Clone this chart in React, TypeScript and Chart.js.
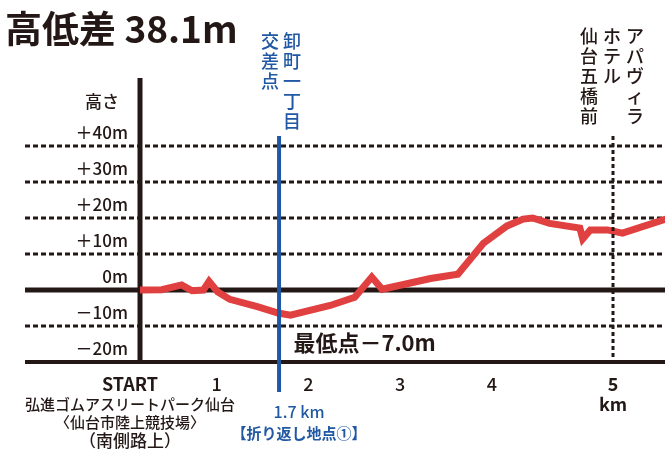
import React, { useEffect, useRef } from 'react';
import Chart from 'chart.js/auto';

// course profile (km from start, metres vs. start)
const distanceKm = [0, 0.23, 0.44, 0.55, 0.67, 0.73, 0.82, 0.95, 1.24, 1.46, 1.59, 2.01, 2.27, 2.45, 2.56, 3.07, 3.36, 3.63, 3.88, 4.05, 4.15, 4.33, 4.65, 4.68, 4.76, 4.94, 5.1, 5.56];
const elevationM = [0, 0.1, 1.4, -0.2, 0, 2.4, -0.5, -2.6, -4.6, -6.4, -7.0, -4.3, -2.0, 3.6, 0.2, 3.2, 4.4, 13.0, 17.8, 19.7, 20.0, 18.5, 17.2, 14.2, 16.7, 16.7, 15.8, 19.7];

const yTicks = [40, 30, 20, 10, 0, -10, -20];
const yTickLabels = ['＋40m', '＋30m', '＋20m', '＋10m', '0m', '－10m', '－20m'];
const solidYLines = [0, -20];

const xTickValues = [0, 0.81, 1.78, 2.75, 3.72, 5];
const xTickLabels = ['START', '1', '2', '3', '4', '5'];

const turnKm = 1.47;
const fiveKm = 5;
const lowestKm = 1.59;

const title = '高低差 38.1m';
const yTitle = '高さ';
const startCaption = ['弘進ゴムアスリートパーク仙台', '〈仙台市陸上競技場〉', '（南側路上）'];
const turnCaption = ['1.7 km', '【折り返し地点①】'];
const turnPlace = ['交差点', '卸町一丁目'];
const fivePlace = ['仙台五橋前', 'ホテル', 'アパヴィラ'];
const lowestLabel = '最低点－7.0m';

const BLACK = '#231815';
const RED = '#e0403f';
const BLUE = '#2158a3';
const FONT = "'Noto Sans CJK JP', 'Noto Sans', sans-serif";

const drawColumn = (ctx: CanvasRenderingContext2D, text: string, x: number, top: number, step: number) => {
  Array.from(text).forEach((ch, i) => {
    ctx.fillText(ch, x, top + i * step);
  });
};

const profilePlugin = {
  id: 'profile',
  beforeDatasetsDraw(chart: any) {
    const { ctx, chartArea, scales } = chart;
    const { x, y } = scales;
    ctx.save();
    ctx.strokeStyle = BLACK;
    // horizontal grid
    yTicks.forEach((v) => {
      const py = y.getPixelForValue(v);
      const solid = solidYLines.includes(v);
      ctx.lineWidth = solid ? (v === 0 ? 5 : 4) : 3;
      ctx.setLineDash(solid ? [] : [5, 3]);
      ctx.beginPath();
      ctx.moveTo(chartArea.left, py);
      ctx.lineTo(chartArea.right, py);
      ctx.stroke();
    });
    // vertical axis at the start
    const ax = x.getPixelForValue(0);
    ctx.setLineDash([]);
    ctx.lineWidth = 5;
    ctx.beginPath();
    ctx.moveTo(ax, 78);
    ctx.lineTo(ax, y.getPixelForValue(-20) + 2);
    ctx.stroke();
    ctx.restore();
  },
  afterDatasetsDraw(chart: any) {
    const { ctx, scales } = chart;
    const { x, y } = scales;
    ctx.save();
    // turnaround marker
    const tx = x.getPixelForValue(turnKm);
    ctx.strokeStyle = BLUE;
    ctx.lineWidth = 4;
    ctx.beginPath();
    ctx.moveTo(tx, 136);
    ctx.lineTo(tx, y.getPixelForValue(-20) + 30);
    ctx.stroke();
    // 5 km marker
    const fx = x.getPixelForValue(fiveKm);
    ctx.strokeStyle = BLACK;
    ctx.lineWidth = 3;
    ctx.setLineDash([4, 3]);
    ctx.beginPath();
    ctx.moveTo(fx, 136);
    ctx.lineTo(fx, y.getPixelForValue(-20));
    ctx.stroke();
    ctx.setLineDash([]);

    ctx.fillStyle = BLACK;
    // title
    ctx.textAlign = 'left';
    ctx.textBaseline = 'middle';
    ctx.font = `bold 37px ${FONT}`;
    ctx.fillText(title, 5, 29);

    // y labels
    const ax = x.getPixelForValue(0);
    ctx.textAlign = 'right';
    ctx.font = `500 17px ${FONT}`;
    yTicks.forEach((v, i) => {
      ctx.fillText(yTickLabels[i], ax - 12, y.getPixelForValue(v) - 13);
    });
    ctx.fillText(yTitle, ax - 21, y.getPixelForValue(40) - 44);

    // x labels
    ctx.textAlign = 'center';
    const labelY = y.getPixelForValue(-20) + 22;
    xTickValues.forEach((v, i) => {
      const bold = i === 0 || i === xTickValues.length - 1;
      ctx.font = `${bold ? 'bold' : '500'} 18px ${FONT}`;
      const px = x.getPixelForValue(v) - (i === 0 ? 10 : 0);
      ctx.fillText(xTickLabels[i], px, labelY);
    });
    ctx.font = `bold 18px ${FONT}`;
    ctx.fillText('km', fx, labelY + 20);

    // start caption
    ctx.font = `500 15px ${FONT}`;
    ctx.fillText(startCaption[0], ax - 10, labelY + 20);
    ctx.fillText(startCaption[1], ax - 10, labelY + 38);
    ctx.font = `500 17px ${FONT}`;
    ctx.fillText(startCaption[2], ax - 10, labelY + 57);

    // turnaround caption
    ctx.fillStyle = BLUE;
    ctx.font = `500 16px ${FONT}`;
    ctx.fillText(turnCaption[0], tx + 20, labelY + 28);
    ctx.font = `bold 15px ${FONT}`;
    ctx.fillText(turnCaption[1], tx + 20, labelY + 49);

    // vertical place names
    ctx.textBaseline = 'top';
    ctx.font = `500 18px ${FONT}`;
    drawColumn(ctx, turnPlace[0], tx - 9, 32, 20);
    drawColumn(ctx, turnPlace[1], tx + 13, 32, 20);
    ctx.fillStyle = BLACK;
    drawColumn(ctx, fivePlace[0], fx - 24, 27, 20);
    drawColumn(ctx, fivePlace[1], fx - 1, 27, 20);
    drawColumn(ctx, fivePlace[2], fx + 22, 27, 20);

    // lowest point note
    ctx.textAlign = 'left';
    ctx.textBaseline = 'middle';
    ctx.font = `bold 22px ${FONT}`;
    ctx.fillText(lowestLabel, x.getPixelForValue(lowestKm) + 3, y.getPixelForValue(-10) + 17);
    ctx.restore();
  },
};

const App: React.FC = () => {
  const canvasRef = useRef<HTMLCanvasElement>(null);
  const chartRef = useRef<Chart | null>(null);

  useEffect(() => {
    document.body.style.margin = '0';
    if (!canvasRef.current) return;
    if (chartRef.current) chartRef.current.destroy();

    chartRef.current = new Chart(canvasRef.current, {
      type: 'line',
      data: {
        datasets: [
          {
            data: distanceKm.map((d, i) => ({ x: d, y: elevationM[i] })),
            borderColor: RED,
            borderWidth: 7,
            pointRadius: 0,
            tension: 0,
            fill: false,
            borderJoinStyle: 'miter',
          },
        ],
      },
      options: {
        animation: false,
        responsive: true,
        maintainAspectRatio: false,
        layout: { padding: { left: 25, right: 0, top: 146, bottom: 97 } },
        plugins: { legend: { display: false }, tooltip: { enabled: false } },
        scales: {
          x: { type: 'linear', display: false, min: -115 / 94.6, max: 525 / 94.6 },
          y: { type: 'linear', display: false, min: -20, max: 40 },
        },
      },
      plugins: [profilePlugin],
    });

    return () => {
      if (chartRef.current) {
        chartRef.current.destroy();
        chartRef.current = null;
      }
    };
  }, []);

  return (
    <div style={{ width: 665, height: 459, position: 'relative', overflow: 'hidden', background: '#fff' }}>
      <canvas ref={canvasRef} />
    </div>
  );
};

export default App;
